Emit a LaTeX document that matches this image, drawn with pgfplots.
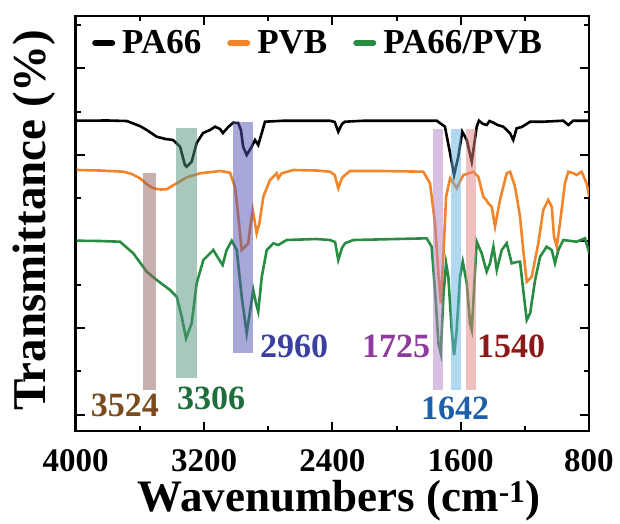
\documentclass[border=0pt]{standalone}
\usepackage{fontspec}
\setmainfont{Liberation Serif}
\usepackage{pgfplots}
\pgfplotsset{compat=1.18}

\definecolor{cpvb}{RGB}{242,133,42}
\definecolor{cmix}{RGB}{40,140,66}
\definecolor{bA}{RGB}{145,97,97}
\definecolor{bB}{RGB}{81,145,125}
\definecolor{bC}{RGB}{81,81,177}
\definecolor{bD}{RGB}{177,129,193}
\definecolor{bE}{RGB}{97,177,225}
\definecolor{bF}{RGB}{225,129,129}
\definecolor{tA}{RGB}{123,74,30}
\definecolor{tB}{RGB}{30,110,60}
\definecolor{tC}{RGB}{58,63,160}
\definecolor{tD}{RGB}{142,58,158}
\definecolor{tE}{RGB}{30,95,170}
\definecolor{tF}{RGB}{140,25,25}

\newcommand\fs[1]{\bfseries\fontsize{#1}{#1}\selectfont}

\begin{document}
\begin{tikzpicture}
\begin{axis}[
    scale only axis,
    width=513.3pt, height=415pt,
    x dir=reverse, xmin=800, xmax=4000,
    y dir=reverse, ymin=16, ymax=431,
    xtick={800,1600,2400,3200,4000},
    minor xtick={1200,2000,2800,3600},
    ytick={68,155,241,328,415},
    minor ytick={25,112,198,285,371},
    yticklabels={},
    tick align=inside,
    major tick length=9pt, minor tick length=5pt,
    tick style={black, line width=2pt},
    axis line style={line width=2.5pt},
    /pgf/number format/assume math mode=true,
    /pgf/number format/1000 sep={},
    xticklabel style={font=\fs{33}, inner sep=0pt, yshift=-18pt},
    xlabel={Wavenumbers (cm\textsuperscript{-1})},
    ylabel={Transmittance (\%)},
    xlabel style={font=\fs{45}, at={(axis description cs:0.513,-0.193)}, anchor=base},
    ylabel style={font=\fs{47}, at={(axis description cs:-0.0579,0.508)}, anchor=base},
    legend style={at={(axis description cs:0.0318,0.935)}, anchor=west,
        draw=none, fill=none, inner sep=0pt, font=\fs{35},
        legend columns=3, column sep=5pt,
        /tikz/every even column/.append style={column sep=24pt}},
    legend image code/.code={\draw[#1, line width=6pt, line cap=round] (3pt,0pt) -- (20pt,0pt);},
  ]

% PA66
\addplot[black, line width=2.6pt] coordinates {
(3994,120.7) (3800,120.5) (3682,121) (3600,126) (3557,130) (3495,136.7) (3440,139)
(3393,140) (3349,146.7) (3319,165) (3308,166.7) (3277,161.7) (3246,143) (3206,133)
(3163,130) (3131,126.7) (3100,129) (3082,133) (3049,127) (3018,122.7) (2987,123)
(2970,130) (2956,146.7) (2934,155) (2903,146.7) (2882,140) (2862,145) (2840,133)
(2820,121.7) (2700,120.7) (2500,120.7) (2415,120.7) (2385,122) (2363,131.7) (2340,124)
(2321,121.7) (2200,120.7) (2000,120.7) (1749,120.7) (1698,126.7) (1666,153.3) (1641,175)
(1615,156.7) (1590,131.7) (1562,140) (1531,161.7) (1500,126.7) (1486,120.7) (1460,124)
(1438,125) (1420,121) (1396,122.7) (1370,125) (1334,126.7) (1292,133.3) (1272,140)
(1251,128.3) (1220,127) (1199,125) (1167,121.7) (1085,121.7) (960,120.7) (929,125)
(898,120.7) (804,120.7)
};
\addlegendentry{PA66}

% PVB
\addplot[cpvb, line width=2.6pt] coordinates {
(3994,170) (3850,170.5) (3703,171.7) (3650,174) (3599,178.3) (3550,185) (3516,188.3)
(3470,189.5) (3433,189.3) (3400,186) (3370,183.3) (3308,177.3) (3225,173.3) (3100,171)
(3038,172.7) (3007,186.7) (2986,216.7) (2965,250) (2944,246.7) (2924,243.3) (2909,223.3)
(2896,210) (2882,223.3) (2872,233.3) (2855,223.3) (2830,196.7) (2789,180) (2747,173.3)
(2737,178.3) (2716,173.3) (2643,170) (2500,170.5) (2415,171.7) (2385,175) (2363,188.3)
(2340,178) (2321,175) (2290,171) (2100,171) (1900,171.5) (1833,171.7) (1791,183.3)
(1760,223.3) (1739,273.3) (1724,303.3) (1708,256.7) (1691,196.7) (1666,178.3) (1645,183)
(1625,188.3) (1600,180) (1583,175) (1521,171.7) (1490,176.7) (1459,196.7) (1440,200)
(1428,203.3) (1406,206.7) (1386,226.7) (1355,200) (1313,173.3) (1292,171.7) (1261,186.7)
(1230,216.7) (1210,250) (1188,281.7) (1157,276.7) (1116,243.3) (1085,210) (1054,200)
(1032,206.7) (1018,236.7) (1001,246.7) (981,223.3) (950,183.3) (929,171.7) (900,173)
(877,175) (846,171.7) (815,183.3) (798,196.7)
};
\addlegendentry{PVB}

% PA66/PVB
\addplot[cmix, line width=2.6pt] coordinates {
(3994,240.7) (3850,241) (3724,241.7) (3641,253.3) (3557,271.7) (3495,280) (3412,290)
(3370,296.7) (3339,316.7) (3312,338.3) (3277,323.3) (3246,283.3) (3204,260) (3142,250)
(3111,258.3) (3084,265) (3059,250) (3027,240.7) (2996,250) (2965,296.7) (2934,333.3)
(2909,306.7) (2893,290) (2876,303.3) (2862,311.7) (2840,276.7) (2809,250) (2768,243.3)
(2737,245) (2685,240) (2500,239) (2415,240) (2383,242) (2363,260) (2340,248) (2321,243.3)
(2269,240) (2000,239) (1812,238.3) (1781,246.7) (1754,303.3) (1739,343.3) (1724,353.3)
(1708,296.7) (1691,263.3) (1677,276.7) (1656,330) (1641,355) (1625,330) (1604,276.7)
(1587,261.7) (1562,283.3) (1542,323.3) (1531,330) (1517,290) (1500,241.7) (1469,253.3)
(1438,271.7) (1417,263.3) (1396,246.7) (1375,270) (1344,250) (1313,243.3) (1282,263.3)
(1250,262) (1230,261.7) (1210,290) (1188,320) (1167,313.3) (1136,280) (1105,256.7)
(1064,246.7) (1032,250) (1012,263.3) (991,250) (960,240) (877,241.7) (825,238.3)
(798,253.3)
};
\addlegendentry{PA66/PVB}

% shaded bands
\addplot[forget plot, draw=none, fill=bA, fill opacity=0.5] coordinates {(3579,173.3) (3499,173.3) (3499,390) (3579,390)} -- cycle;
\addplot[forget plot, draw=none, fill=bB, fill opacity=0.5] coordinates {(3375,128.3) (3246,128.3) (3246,378) (3375,378)} -- cycle;
\addplot[forget plot, draw=none, fill=bC, fill opacity=0.5] coordinates {(3017,122.3) (2896,122.3) (2896,353.3) (3017,353.3)} -- cycle;
\addplot[forget plot, draw=none, fill=bD, fill opacity=0.5] coordinates {(1774,129.3) (1708,129.3) (1708,390) (1774,390)} -- cycle;
\addplot[forget plot, draw=none, fill=bE, fill opacity=0.5] coordinates {(1662,129.3) (1598,129.3) (1598,390) (1662,390)} -- cycle;
\addplot[forget plot, draw=none, fill=bF, fill opacity=0.5] coordinates {(1567,129.3) (1504,129.3) (1504,390) (1567,390)} -- cycle;

\node[text=tA, font=\fs{34}, inner sep=0pt] at (axis cs:3693,405) {3524};
\node[text=tB, font=\fs{34}, inner sep=0pt] at (axis cs:3156,398.5) {3306};
\node[text=tC, font=\fs{34}, inner sep=0pt] at (axis cs:2639,346.5) {2960};
\node[text=tD, font=\fs{34}, inner sep=0pt] at (axis cs:2003,346.5) {1725};
\node[text=tF, font=\fs{34}, inner sep=0pt] at (axis cs:1286,346.5) {1540};
\node[text=tE, font=\fs{34}, inner sep=0pt] at (axis cs:1635,408.5) {1642};
\end{axis}
\pgfresetboundingbox
\path[use as bounding box] (-75.7pt,-92pt) rectangle (544.3pt,431pt);
\end{tikzpicture}
\end{document}
